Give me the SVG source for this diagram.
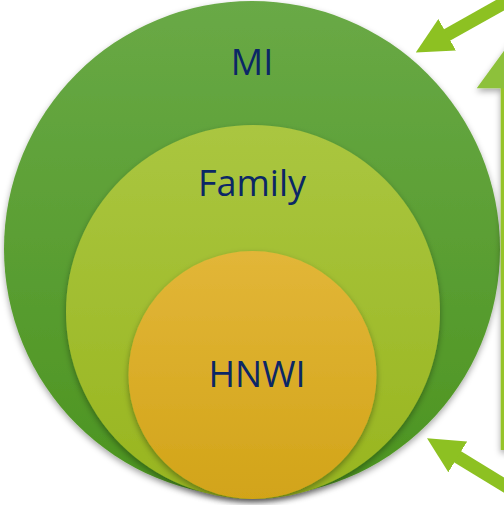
<svg xmlns="http://www.w3.org/2000/svg" width="504" height="505" viewBox="0 0 504 505">
<style>
.lbl{font-family:"Open Sans","Liberation Sans",sans-serif;font-size:36px;font-weight:500;fill:#0b2766;text-anchor:middle}
.arrow{stroke:#8dc122;stroke-width:13;fill:none}
</style>
<defs>
<linearGradient id="gOuter" x1="0" y1="0" x2="0" y2="1">
<stop offset="0" stop-color="#69a946"/><stop offset="1" stop-color="#4c9420"/>
</linearGradient>
<linearGradient id="gMid" x1="0" y1="0" x2="0" y2="1">
<stop offset="0" stop-color="#aac640"/><stop offset="1" stop-color="#98b51f"/>
</linearGradient>
<linearGradient id="gIn" x1="0" y1="0" x2="0" y2="1">
<stop offset="0" stop-color="#e2b638"/><stop offset="1" stop-color="#d2a419"/>
</linearGradient>
<filter id="sh" x="-10%" y="-10%" width="120%" height="125%">
<feDropShadow dx="0" dy="3" stdDeviation="3" flood-color="#000" flood-opacity="0.35"/>
</filter>
<marker id="head" viewBox="0 0 36 36" markerWidth="36" markerHeight="36" refX="1" refY="18" orient="auto" markerUnits="userSpaceOnUse">
<path d="M0,0 L36,18 L0,36 z" fill="#8dc122"/>
</marker>
</defs>
<g id="MI">
<circle cx="252" cy="249" r="248" fill="url(#gOuter)" filter="url(#sh)"/>
<text class="lbl" x="252" y="75">MI</text>
</g>
<g id="Family">
<circle cx="253" cy="312" r="187" fill="url(#gMid)" filter="url(#sh)"/>
<text class="lbl" x="252" y="196">Family</text>
</g>
<g id="HNWI">
<circle cx="252.5" cy="375" r="124" fill="url(#gIn)" filter="url(#sh)"/>
<text class="lbl" x="257" y="387">HNWI</text>
</g>
<g id="connectors">
<path class="arrow" d="M520,-6 L446.3,35.3" marker-end="url(#head)"/>
<path class="arrow" d="M530,501 L456.9,456.4" marker-end="url(#head)"/>
<g filter="url(#sh)">
<rect x="500.7" y="86" width="25" height="364" fill="#96c42c"/>
<polygon points="476.7,88.3 549,88.3 513,38.6" fill="#8dc13a"/>
</g>
</g>
</svg>
